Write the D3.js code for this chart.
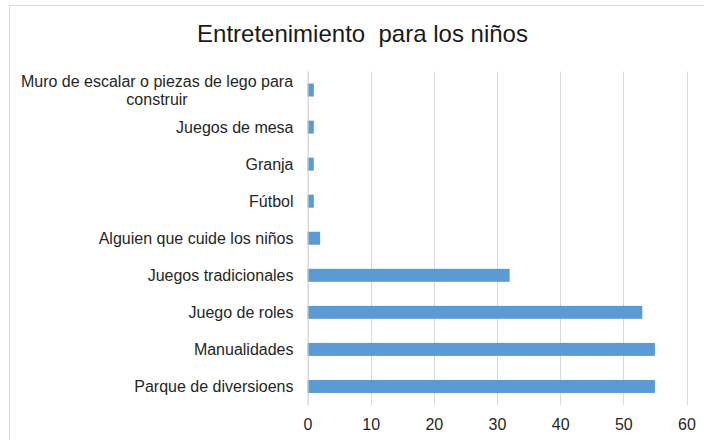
<!DOCTYPE html>
<html>
<head>
<meta charset="utf-8">
<script src="https://cdn.jsdelivr.net/npm/d3@7"></script>
<style>
  html, body { margin: 0; padding: 0; background: #fff; }
  svg { display: block; font-family: "Liberation Sans", Arial, sans-serif; }
</style>
</head>
<body>
<svg id="chart" width="704" height="440"></svg>
<script>
// Categories from top to bottom, with how many people named each one
const categories = [
  "Muro de escalar o piezas de lego para construir",
  "Juegos de mesa",
  "Granja",
  "Fútbol",
  "Alguien que cuide los niños",
  "Juegos tradicionales",
  "Juego de roles",
  "Manualidades",
  "Parque de diversioens"
];
const values = [1, 1, 1, 1, 2, 32, 53, 55, 55];
const tickValues = [0, 10, 20, 30, 40, 50, 60];
const title = "Entretenimiento  para los niños";

// Line breaks used for the long category names
const labelLines = {
  "Muro de escalar o piezas de lego para construir": ["Muro de escalar o piezas de lego para", "construir"]
};

const svg = d3.select("#chart");
const W = 704, H = 440;
const plot = { left: 307.5, right: 686.5, top: 71.5, bottom: 405 };

// Chart frame
svg.append("rect")
  .attr("x", 9.5).attr("y", 5.5)
  .attr("width", W + 10).attr("height", H + 10)
  .attr("fill", "#fff").attr("stroke", "#d9d9d9").attr("stroke-width", 1);

const x = d3.scaleLinear().domain([0, 60]).range([plot.left, plot.right]);
const y = d3.scaleBand().domain(categories).range([plot.top, plot.bottom]).paddingInner(0.65).paddingOuter(0.325);

// Vertical gridlines
svg.append("g").selectAll("line")
  .data(tickValues)
  .join("line")
  .attr("x1", d => Math.round(x(d)) + 0.5).attr("x2", d => Math.round(x(d)) + 0.5)
  .attr("y1", plot.top).attr("y2", plot.bottom)
  .attr("stroke", "#d9d9d9").attr("stroke-width", 1);

// Bars
svg.append("g").selectAll("rect")
  .data(categories)
  .join("rect")
  .attr("x", x(0))
  .attr("y", d => y(d))
  .attr("width", (d, i) => x(values[i]) - x(0))
  .attr("height", y.bandwidth())
  .attr("fill", "#5b9bd5");

// Value axis along the bottom
const xAxis = d3.axisBottom(x).tickValues(tickValues).tickSize(0).tickPadding(14);
const gx = svg.append("g").attr("transform", `translate(0,${plot.bottom})`).call(xAxis);
gx.select(".domain").remove();
gx.selectAll("text")
  .attr("font-size", 16).attr("fill", "#262626")
  .attr("font-family", "Liberation Sans, Arial, sans-serif");

// Category axis on the left
const yAxis = d3.axisLeft(y).tickSize(0).tickPadding(14).tickFormat("");
const gy = svg.append("g").attr("transform", `translate(${plot.left},0)`).call(yAxis);
gy.select(".domain").attr("stroke", "#d9d9d9").attr("d", `M0.5,${plot.top}V${plot.bottom}`);
gy.selectAll(".tick").each(function(d) {
  const lines = labelLines[d] || [d];
  const t = d3.select(this).append("text")
    .attr("x", -14)
    .attr("text-anchor", d === categories[0] ? "middle" : "end")
    .attr("font-size", 16).attr("fill", "#262626")
    .attr("font-family", "Liberation Sans, Arial, sans-serif");
  if (lines.length > 1) {
    t.attr("x", -14 - 136.5);
    lines.forEach((ln, k) => {
      t.append("tspan").attr("x", -14 - 136.5)
        .attr("dy", k === 0 ? "-0.2em" : "1.12em")
        .text(ln);
    });
  } else {
    t.attr("dy", "0.35em").text(d);
  }
});

// Title (keeps its double space)
svg.append("text")
  .attr("x", 362.5).attr("y", 42)
  .attr("text-anchor", "middle")
  .attr("font-size", 24).attr("fill", "#1a1a1a")
  .style("white-space", "pre")
  .text(title);
</script>
</body>
</html>
